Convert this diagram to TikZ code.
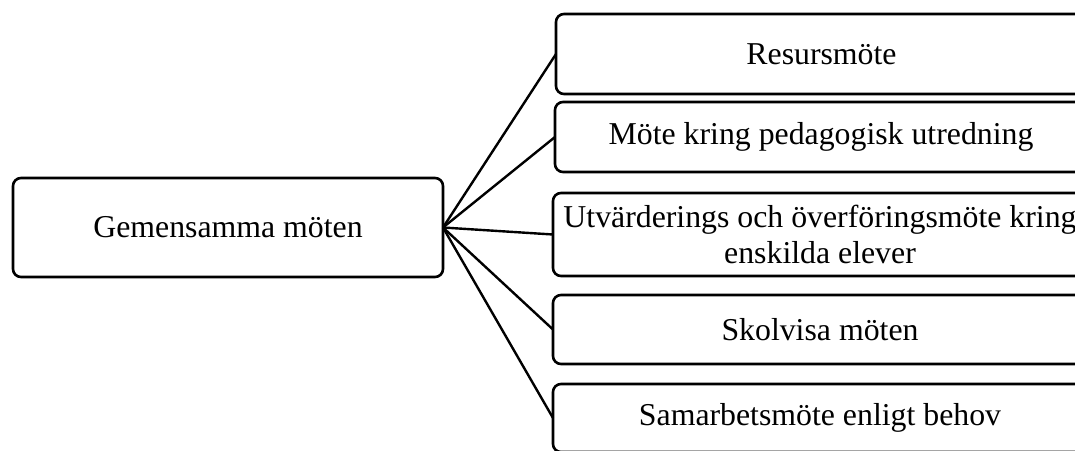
\documentclass[tikz,border=0pt]{standalone}
\usepackage{fontspec}
\setmainfont{Liberation Serif}
\begin{document}
\begin{tikzpicture}[x=1pt,y=-1pt,
  box/.style={draw=black, line width=2.6pt, rounded corners=8pt, inner sep=0pt, outer sep=0pt,
    align=center, font=\fontsize{31.8}{36.6}\selectfont, text=black},
  link/.style={draw=black, line width=2.4pt}]
\clip (0,0) rectangle (1075,450);
\node[box, minimum width=430pt, minimum height=99pt] (main) at (228,227.5) {Gemensamma möten};
\node[box, minimum width=531pt, minimum height=80pt] (b1) at (821.5,54) {Resursmöte};
\node[box, minimum width=532pt, minimum height=70pt] (b2) at (821,137) {Möte kring pedagogisk utredning};
\node[box, minimum width=534pt, minimum height=83pt] (b3) at (820,234.5) {Utvärderings och överföringsmöte kring\\enskilda elever};
\node[box, minimum width=534pt, minimum height=69pt] (b4) at (820,329.5) {Skolvisa möten};
\node[box, minimum width=534pt, minimum height=68pt] (b5) at (820,418) {Samarbetsmöte enligt behov};
\foreach \b in {b1,b2,b3,b4,b5} \draw[link] (main.east) -- (\b.west);
\end{tikzpicture}
\end{document}
